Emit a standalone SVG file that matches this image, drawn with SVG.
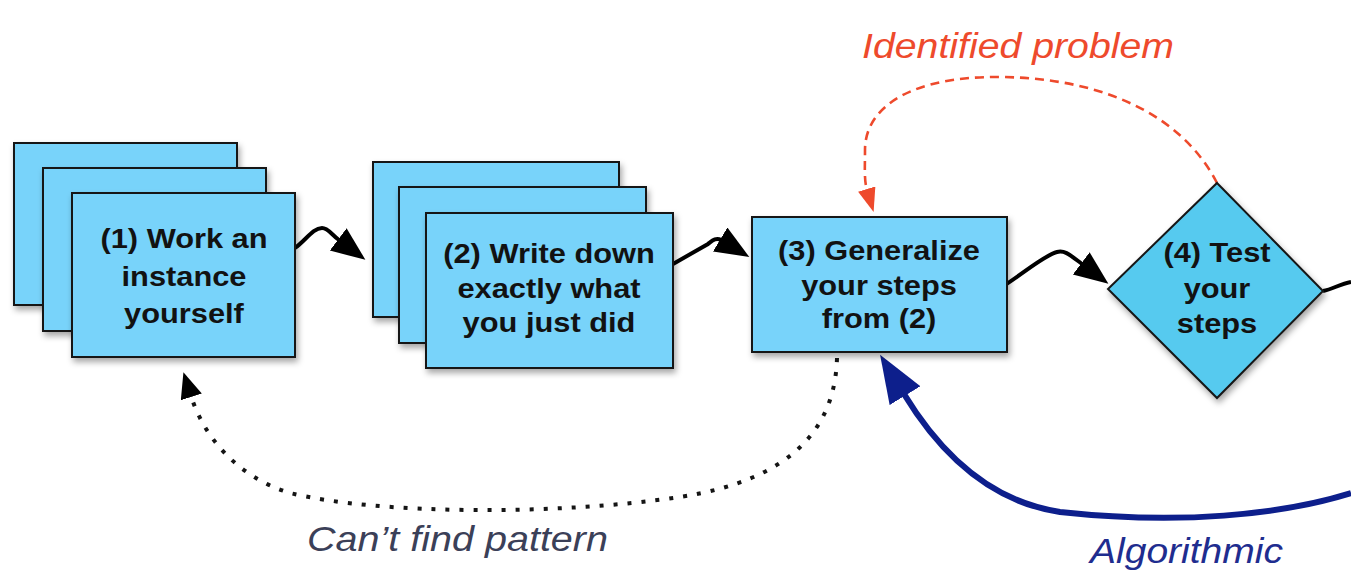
<svg xmlns="http://www.w3.org/2000/svg" width="1351" height="573" viewBox="0 0 1351 573">
<style>
.box{fill:#78D3FA;stroke:#151515;stroke-width:2}
.dia{fill:#57CAEF;stroke:#151515;stroke-width:2}
.lbl{font-family:"Liberation Sans",Arial,sans-serif;font-weight:bold;font-size:28px;fill:#121212;text-anchor:middle}
.flow{fill:none;stroke:#000;stroke-width:4}
.it{font-family:"Liberation Sans",Arial,sans-serif;font-style:italic;font-size:35px}
</style>
<defs>
<filter id="sh" x="-10%" y="-10%" width="130%" height="140%">
<feDropShadow dx="2" dy="4" stdDeviation="3" flood-color="#000" flood-opacity="0.35"/>
</filter>
<marker id="ak" markerUnits="userSpaceOnUse" markerWidth="36" markerHeight="30" refX="1" refY="14" orient="auto">
<path d="M0,0 L34,14 L0,28 z" fill="#000"/>
</marker>
<marker id="ad" markerUnits="userSpaceOnUse" markerWidth="28" markerHeight="24" refX="1" refY="11" orient="auto">
<path d="M0,0 L26,11 L0,22 z" fill="#000"/>
</marker>
<marker id="ar" markerUnits="userSpaceOnUse" markerWidth="26" markerHeight="20" refX="1" refY="9" orient="auto">
<path d="M0,0 L24,9 L0,18 z" fill="#EE4A2C"/>
</marker>
<marker id="ab" markerUnits="userSpaceOnUse" markerWidth="50" markerHeight="38" refX="2" refY="18" orient="auto">
<path d="M0,0 L48,18 L0,36 z" fill="#0D1F8C"/>
</marker>
</defs>

<g id="connectors">
<path class="flow" d="M295,248 C306,240 313,228 322,228 C328,228 331,234 339,240" marker-end="url(#ak)"/>
<path class="flow" d="M673,264 L708,244 C712,241 716,237 721,240" marker-end="url(#ak)"/>
<path class="flow" d="M1005,285 C1025,272 1045,255 1057,252 C1065,250 1070,255 1082,264" marker-end="url(#ak)"/>
<path class="flow" d="M1323,291 C1333,289 1340,284 1351,282"/>
<path d="M1217,183 C1185,120 1110,78 1000,77 C915,76 865,105 865,150 C865,168 864,180 867,190" fill="none" stroke="#EE4A2C" stroke-width="2.6" stroke-dasharray="9 6" marker-end="url(#ar)"/>
<path d="M837,358 C835,430 790,480 680,497 C560,515 380,515 290,493 C240,478 205,440 191,396" fill="none" stroke="#151515" stroke-width="4" stroke-dasharray="4 10" marker-end="url(#ad)"/>
<path d="M1351,493 C1280,515 1180,525 1060,512 C980,500 932,440 904,394" fill="none" stroke="#0D1F8C" stroke-width="6" marker-end="url(#ab)"/>
</g>

<g id="node1">
<rect class="box" x="14" y="143" width="223" height="162" filter="url(#sh)"/>
<rect class="box" x="43" y="168" width="223" height="163" filter="url(#sh)"/>
<rect class="box" x="72" y="193" width="223" height="164" filter="url(#sh)"/>
<g transform="translate(184 0) scale(1.1 1) translate(-184 0)">
<text class="lbl" x="184" y="248">(1) Work an</text>
<text class="lbl" x="184" y="286">instance</text>
<text class="lbl" x="184" y="323">yourself</text>
</g>
</g>

<g id="node2">
<rect class="box" x="373" y="162" width="246" height="155" filter="url(#sh)"/>
<rect class="box" x="399" y="187" width="247" height="156" filter="url(#sh)"/>
<rect class="box" x="426" y="213" width="247" height="155" filter="url(#sh)"/>
<g transform="translate(549 0) scale(1.1 1) translate(-549 0)">
<text class="lbl" x="549" y="263">(2) Write down</text>
<text class="lbl" x="549" y="298">exactly what</text>
<text class="lbl" x="549" y="332">you just did</text>
</g>
</g>

<g id="node3">
<rect class="box" x="752" y="217" width="255" height="135" filter="url(#sh)"/>
<g transform="translate(879 0) scale(1.1 1) translate(-879 0)">
<text class="lbl" x="879" y="260">(3) Generalize</text>
<text class="lbl" x="879" y="295">your steps</text>
<text class="lbl" x="879" y="328">from (2)</text>
</g>
</g>

<g id="node4">
<path class="dia" d="M1217,183 L1323,291 L1217,398 L1108,289 z" filter="url(#sh)"/>
<g transform="translate(1217 0) scale(1.1 1) translate(-1217 0)">
<text class="lbl" x="1217" y="262">(4) Test</text>
<text class="lbl" x="1217" y="298">your</text>
<text class="lbl" x="1217" y="333">steps</text>
</g>
</g>

<text class="it" x="862" y="58" fill="#EE4A2C" font-size="37" textLength="312" lengthAdjust="spacingAndGlyphs">Identified problem</text>
<text class="it" x="307" y="551" fill="#3B4058" textLength="301" lengthAdjust="spacingAndGlyphs">Can’t find pattern</text>
<text class="it" x="1090" y="563" fill="#1F2D8F" textLength="193" lengthAdjust="spacingAndGlyphs">Algorithmic</text>
</svg>
